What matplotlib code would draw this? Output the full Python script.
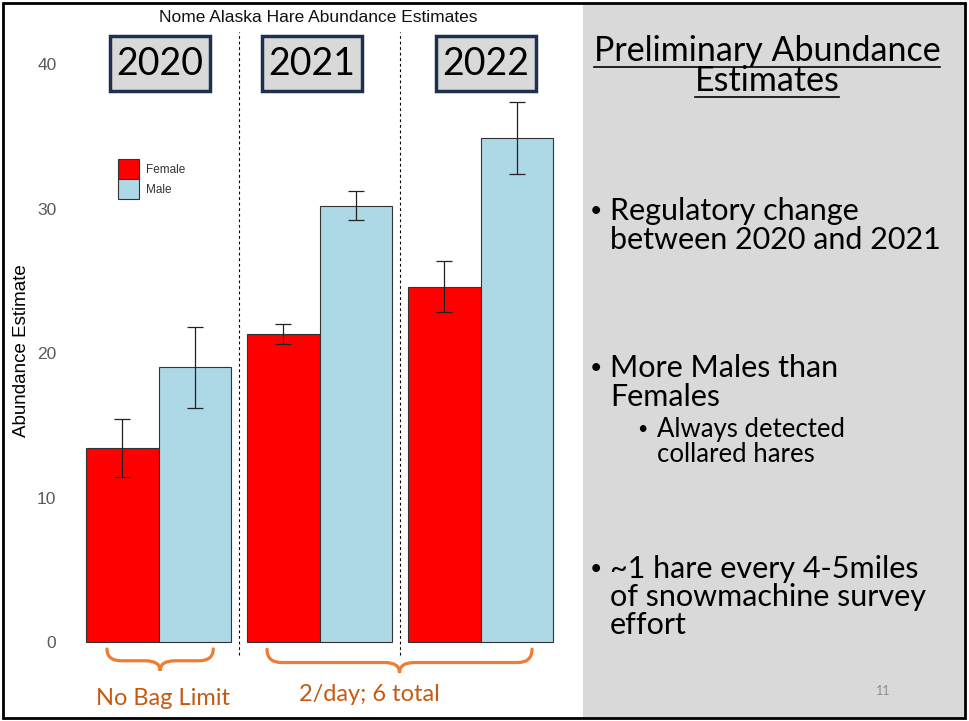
import numpy as np
import matplotlib.pyplot as plt
from matplotlib.patches import Rectangle, PathPatch
from matplotlib.path import Path
from matplotlib.lines import Line2D

# data
years = ['2020', '2021', '2022']
female = [13.4, 21.3, 24.6]
female_err = [2.0, 0.7, 1.75]
male = [19.0, 30.2, 34.9]
male_err = [2.8, 1.0, 2.5]
yticks = [0, 10, 20, 30, 40]
bag_limits = ['No Bag Limit', '2/day; 6 total']
chart_title = 'Nome Alaska Hare Abundance Estimates'
panel_title = ['Preliminary Abundance', 'Estimates']

W, H = 969, 721
fig = plt.figure(figsize=(W / 100, H / 100), dpi=100)


def fx(px):
    return px / W


def fy(py):
    return 1 - py / H


slide_font = ['Lato', 'DejaVu Sans']
chart_font = ['Liberation Sans', 'DejaVu Sans']

# gray panel on the right and slide border
fig.add_artist(Rectangle((fx(583), fy(718)), (966 - 583) / W, (718 - 3) / H,
                         transform=fig.transFigure, fc='#d9d9d9', ec='none', zorder=0))

ax = fig.add_axes([fx(62), 0, fx(580) - fx(62), 1 - 25 / H])
ax.set_xlim(-0.5994, 2.618)
ax.set_ylim(-5.467, 42.70)
ax.patch.set_visible(False)
for s in ax.spines.values():
    s.set_visible(False)

x = np.arange(len(years))
w = 0.453
ekw = dict(ecolor='#222222', elinewidth=0.9, capsize=6, capthick=0.9)
ax.bar(x - w / 2, female, w, yerr=female_err, color='#ff0000', edgecolor='#333333',
       linewidth=0.8, label='Female', error_kw=ekw)
ax.bar(x + w / 2, male, w, yerr=male_err, color='#add8e6', edgecolor='#333333',
       linewidth=0.8, label='Male', error_kw=ekw)

ax.set_xticks([])
ax.set_yticks(yticks)
ax.tick_params(axis='y', length=0, pad=4, labelsize=12.5, labelcolor='#5a5a5a')
for lab in ax.get_yticklabels():
    lab.set_family(chart_font)

ax.vlines([0.5, 1.5], -0.9, 42.2, colors='black', linestyles=(0, (2.5, 2.5)), lw=0.8, clip_on=False)

leg = ax.legend(loc='upper left', bbox_to_anchor=(fx(118), fy(159)), bbox_transform=fig.transFigure,
                frameon=False, handlelength=1.75, handleheight=2.2, handletextpad=0.6,
                labelspacing=0.05, borderpad=0, borderaxespad=0,
                prop={'family': chart_font, 'size': 8.5})
for t in leg.get_texts():
    t.set_color('#333333')

fig.text(fx(318), fy(17), chart_title, ha='center', va='center', fontsize=12.5, family=chart_font,
         color='#111111')
fig.text(fx(22), fy(351), 'Abundance Estimate', rotation=90, ha='center', va='center',
         fontsize=13.5, family=chart_font)

# year boxes
for cx, yr in zip([160, 312, 486], years):
    fig.add_artist(Rectangle((fx(cx - 50), fy(91)), 100 / W, 55 / H, transform=fig.transFigure,
                             fc='#d9d9d9', ec='#1f2f4f', lw=2.5))
    fig.text(fx(cx), fy(64), yr, ha='center', va='center', fontsize=27, family=slide_font)


# curly braces under the bars
def brace(x0, x1, ytop, ymid, ytip, r):
    xc = (x0 + x1) / 2
    verts = [(x0, ytop), (x0, ymid), (x0 + r, ymid), (xc - r, ymid), (xc, ymid), (xc, ytip),
             (xc, ymid), (xc + r, ymid), (x1 - r, ymid), (x1, ymid), (x1, ytop)]
    codes = [Path.MOVETO, Path.CURVE3, Path.CURVE3, Path.LINETO, Path.CURVE3, Path.CURVE3,
             Path.CURVE3, Path.CURVE3, Path.LINETO, Path.CURVE3, Path.CURVE3]
    ax.add_patch(PathPatch(Path(verts, codes), fill=False, ec='#ed7d31', lw=2.3,
                           capstyle='round', clip_on=False))


brace(x[0] - 0.32, x[0] + 0.34, -0.48, -1.3, -2.0, 0.09)
brace(x[1] - 0.326, x[2] + 0.32, -0.5, -1.42, -2.15, 0.09)
ax.text(x[0] + 0.03, -3.9, bag_limits[0], ha='center', va='center', fontsize=17,
        family=slide_font, color='#c55a11')
ax.text(x[1] + 0.31, -3.6, bag_limits[1], ha='center', va='center', fontsize=17,
        family=slide_font, color='#c55a11')

# right panel text
t1 = fig.text(fx(767), fy(61), panel_title[0], ha='center', va='baseline', fontsize=24.5,
              family=slide_font)
t2 = fig.text(fx(767), fy(91), panel_title[1], ha='center', va='baseline', fontsize=24.5,
              family=slide_font)

bullets = [
    (590, 610, 22, [(220, 'Regulatory change'), (249, 'between 2020 and 2021')]),
    (590, 610, 22, [(377, 'More Males than'), (406, 'Females')]),
    (637, 657, 18.5, [(437, 'Always detected'), (462, 'collared hares')]),
    (590, 610, 22, [(578, '~1 hare every 4-5miles'), (606, 'of snowmachine survey'), (634, 'effort')]),
]
for bx, tx, fs, lines in bullets:
    fig.text(fx(bx), fy(lines[0][0] - 3), '\u2022', ha='left', va='baseline', fontsize=fs * 0.7,
             family=slide_font)
    for yb, s in lines:
        fig.text(fx(tx), fy(yb), s, ha='left', va='baseline', fontsize=fs, family=slide_font)

fig.text(fx(883), fy(695), '11', ha='center', va='baseline', fontsize=9, family=slide_font,
         color='#8c8c8c')

# underline the panel title
fig.canvas.draw()
r = fig.canvas.get_renderer()
for t in (t1, t2):
    bb = t.get_window_extent(r)
    _, yb = t.get_transform().transform(t.get_position())
    yl = (yb - 6) / H
    fig.add_artist(Line2D([bb.x0 / W, bb.x1 / W], [yl, yl], transform=fig.transFigure,
                          color='black', lw=1.2))

fig.add_artist(Rectangle((fx(3), fy(718)), (965 - 3) / W, (718 - 3) / H,
                         transform=fig.transFigure, fill=False, ec='black', lw=2))

fig.savefig('out.png', dpi=100)
